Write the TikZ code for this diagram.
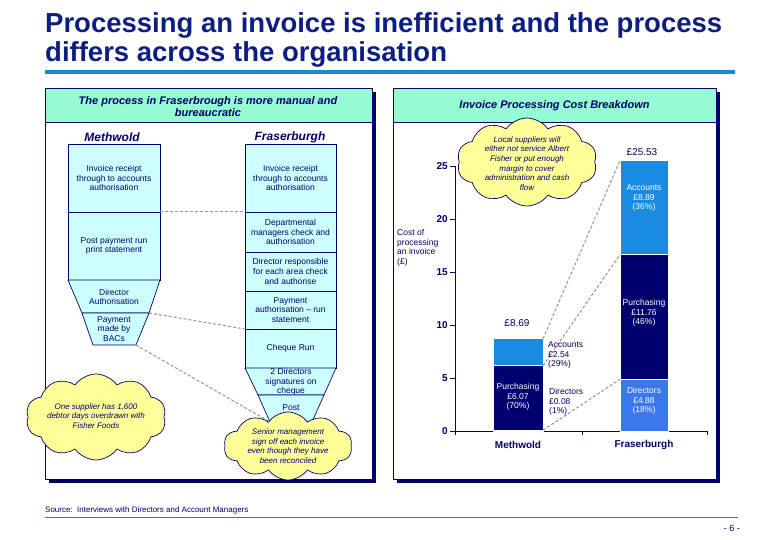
\documentclass[tikz,border=0pt]{standalone}
\usepackage{fontspec}
\setmainfont{Liberation Sans}
\usepackage{xcolor}
\usepackage{tikz}
\usetikzlibrary{shapes.symbols}

\definecolor{ink}{RGB}{0,0,102}
\definecolor{titleblue}{RGB}{12,30,130}
\definecolor{rulblue}{RGB}{30,136,212}
\definecolor{mint}{RGB}{150,250,210}
\definecolor{boxcyan}{RGB}{204,255,255}
\definecolor{puffyellow}{RGB}{255,255,153}
\definecolor{accblue}{RGB}{25,140,225}
\definecolor{purnavy}{RGB}{0,0,110}
\definecolor{dirblue}{RGB}{60,120,235}
\definecolor{linkgray}{RGB}{150,150,150}
\definecolor{footblue}{RGB}{50,120,170}

\begin{document}
\begin{tikzpicture}[
  x=1pt, y=-1pt,
  font=\fontsize{8.5}{9.7}\selectfont, text=ink,
  titletxt/.style={anchor=base west, inner sep=0pt, text=titleblue, font=\fontsize{27.5}{29}\selectfont\bfseries},
  head/.style={align=center, inner sep=0pt, font=\fontsize{11}{12.5}\selectfont\bfseries\itshape},
  colhead/.style={inner sep=0pt, font=\fontsize{12}{14}\selectfont\bfseries\itshape},
  proc/.style={draw=ink, fill=boxcyan, line width=0.7pt, align=center, inner sep=0pt, outer sep=0pt},
  funnel/.style={draw=ink, fill=boxcyan, line width=0.7pt, line join=round},
  txt/.style={align=center, inner sep=0pt},
  puff/.style={cloud, cloud puffs=10, cloud puff arc=110, cloud ignores aspect, draw=ink, fill=puffyellow, line width=0.7pt, inner sep=0pt},
  pufftxt/.style={align=center, inner sep=0pt, font=\fontsize{8}{9.6}\selectfont\itshape},
  link/.style={draw=linkgray, line width=1pt, dash pattern=on 3pt off 2pt},
  bar/.style={draw=white, line width=0.9pt, inner sep=0pt, outer sep=0pt},
  barlab/.style={align=center, inner sep=0pt, text=white},
  sidelab/.style={align=left, anchor=west, inner sep=0pt},
  ax/.style={draw=ink, line width=0.7pt},
  ticklab/.style={anchor=east, inner sep=0pt, font=\fontsize{10}{12}\selectfont\bfseries},
]
\useasboundingbox (0,0) rectangle (780,540);

% title
\node[titletxt] (title1) at (45,33) {Processing an invoice is inefficient and the process};
\node[titletxt] (title2) at (45,62) {differs across the organisation};
\draw[rulblue, line width=4pt] (45,72) -- (735,72);

% panels
\fill[ink] (49,92) rectangle (376,483);
\draw[ink, fill=white, line width=0.7pt] (45,88) rectangle (372,479);
\draw[ink, fill=mint, line width=0.7pt] (45,88) rectangle (372,122);
\fill[ink] (397,92) rectangle (720,483);
\draw[ink, fill=white, line width=0.7pt] (393,88) rectangle (716,479);
\draw[ink, fill=mint, line width=0.7pt] (393,88) rectangle (716,122);
\node[head] (lhead) at (208,106.5) {The process in Fraserbrough is more manual and\\bureaucratic};
\node[head] (rhead) at (554.5,106) {Invoice Processing Cost Breakdown};

% process columns
\node[colhead] (mhead) at (112,137) {Methwold};
\node[colhead] (fhead) at (290,137) {Fraserburgh};

\node[proc, minimum width=92, minimum height=68] (m1) at (114,178) {Invoice receipt\\through to accounts\\authorisation};
\node[proc, minimum width=92, minimum height=68] (m2) at (114,246) {Post payment run\\print statement};
\coordinate (m3tl) at (68,280);
\coordinate (m3tr) at (160,280);
\coordinate (m3bl) at (82,313);
\coordinate (m3br) at (149,313);
\coordinate (m4bl) at (93,345);
\coordinate (m4br) at (136,345);
\draw[funnel] (m3tl) -- (m3tr) -- (m3br) -- (m3bl) -- cycle;
\draw[funnel] (m3bl) -- (m3br) -- (m4br) -- (m4bl) -- cycle;
\node[txt] (m3) at (114,297) {Director\\Authorisation};
\node[txt] (m4) at (114,329) {Payment\\made by\\BACs};

\node[proc, minimum width=91, minimum height=68] (f1) at (290.5,178) {Invoice receipt\\through to accounts\\authorisation};
\node[proc, minimum width=91, minimum height=40] (f2) at (290.5,232) {Departmental\\managers check and\\authorisation};
\node[proc, minimum width=91, minimum height=39] (f3) at (290.5,271.5) {Director responsible\\for each area check\\and authorise};
\node[proc, minimum width=91, minimum height=38] (f4) at (290.5,310) {Payment\\authorisation -- run\\statement};
\node[proc, minimum width=91, minimum height=39] (f5) at (290.5,348.5) {Cheque Run};
\coordinate (f6tl) at (245,368);
\coordinate (f6tr) at (336,368);
\coordinate (f6bl) at (258,395);
\coordinate (f6br) at (324,395);
\coordinate (f7bl) at (270,422);
\coordinate (f7br) at (312,422);
\draw[funnel] (f6tl) -- (f6tr) -- (f6br) -- (f6bl) -- cycle;
\draw[funnel] (f6bl) -- (f6br) -- (f7br) -- (f7bl) -- cycle;
\node[txt] (f6) at (291,382) {2 Directors\\signatures on\\cheque};
\node[txt] (f7) at (291,408) {Post};

\draw[link] (m1.south east) -- (f1.south west);
\draw[link] (m3br) -- (f4.south west);
\draw[link] (m4br) -- (f7bl);

\node[puff, minimum width=140, minimum height=86] (supc) at (96,417) {};
\node[pufftxt] (sup) at (96,416) {One supplier has 1,600\\debtor days overdrawn with\\Fisher Foods};
\node[puff, minimum width=128, minimum height=68] (senc) at (288,446) {};
\node[pufftxt] (sen) at (288,446) {Senior management\\sign off each invoice\\even though they have\\been reconciled};

% chart
\draw[ax] (455,166) -- (455,431) -- (707,431);
\draw[ax] (450,166) -- (455,166) (450,219) -- (455,219) (450,272) -- (455,272)
  (450,325) -- (455,325) (450,378) -- (455,378) (450,431) -- (455,431);
\draw[ax] (455,431) -- (455,435) (582,431) -- (582,435) (707,431) -- (707,435);
\node[ticklab] (y25) at (448,166) {25};
\node[ticklab] (y20) at (448,219) {20};
\node[ticklab] (y15) at (448,272) {15};
\node[ticklab] (y10) at (448,325) {10};
\node[ticklab] (y5) at (448,378) {5};
\node[ticklab] (y0) at (448,431) {0};
\node[align=left, anchor=north west, inner sep=0pt] (ylab) at (397,229) {Cost of\\processing\\an invoice\\(\pounds)};

\node[bar, fill=purnavy, minimum width=50, minimum height=0.8] (mdir) at (518,430.6) {};
\node[bar, fill=purnavy, minimum width=50, minimum height=64.4] (mpur) at (518,398) {};
\node[bar, fill=accblue, minimum width=50, minimum height=26.9] (macc) at (518,352.35) {};
\node[bar, fill=dirblue, minimum width=48, minimum height=51.7] (fdir) at (644,405.15) {};
\node[bar, fill=purnavy, minimum width=48, minimum height=124.7] (fpur) at (644,316.95) {};
\node[bar, fill=accblue, minimum width=48, minimum height=94.2] (facc) at (644,207.5) {};

\draw[link] (mdir.north east) -- (fdir.north west);
\draw[link] (mpur.north east) -- (fpur.north west);
\draw[link] (macc.north east) -- (facc.north west);

\node[barlab] (mpurl) at (518,397) {Purchasing\\\pounds6.07\\(70\%)};
\node[barlab] (faccl) at (644,198) {Accounts\\\pounds8.89\\(36\%)};
\node[barlab] (fpurl) at (644,313) {Purchasing\\\pounds11.76\\(46\%)};
\node[barlab] (fdirl) at (644,401) {Directors\\\pounds4.88\\(18\%)};
\node[sidelab] (maccl) at (548,355) {Accounts\\\pounds2.54\\(29\%)};
\node[sidelab] (mdirl) at (549,402) {Directors\\\pounds0.08\\(1\%)};
\node[font=\fontsize{10}{12}\selectfont, inner sep=0pt] (mtot) at (517,323) {\pounds8.69};
\node[font=\fontsize{10}{12}\selectfont, inner sep=0pt] (ftot) at (642,152) {\pounds25.53};
\node[font=\fontsize{10}{12}\selectfont\bfseries, inner sep=0pt] (mcat) at (518,445) {Methwold};
\node[font=\fontsize{10}{12}\selectfont\bfseries, inner sep=0pt] (fcat) at (644,445) {Fraserburgh};

\node[puff, minimum width=140, minimum height=88] (locc) at (527,162) {};
\node[pufftxt] (loc) at (527,163.5) {Local suppliers will\\either not service Albert\\Fisher or put enough\\margin to cover\\administration and cash\\flow};

% footer
\node[anchor=base west, inner sep=0pt, font=\fontsize{8}{9}\selectfont] (src) at (45,512) {Source:\ \ Interviews with Directors and Account Managers};
\draw[footblue, line width=0.8pt] (45,517) -- (738,517);
\node[anchor=base east, inner sep=0pt, font=\fontsize{9}{10}\selectfont] (page) at (740,531) {- 6 -};
\end{tikzpicture}
\end{document}
